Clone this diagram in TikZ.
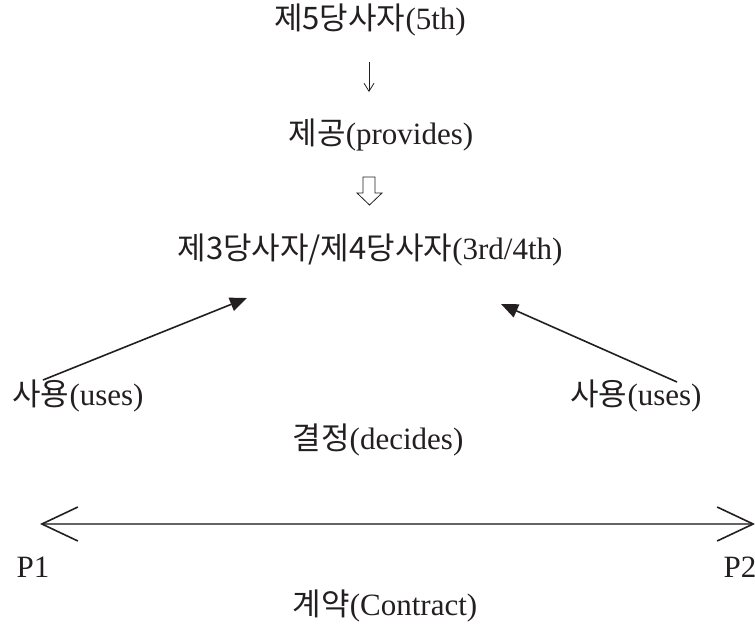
\documentclass[tikz,border=0pt]{standalone}
\usepackage{fontspec}
\setmainfont{Liberation Serif}
\newfontfamily\kr{Noto Sans CJK KR}
\usepackage{tikz}
\usetikzlibrary{arrows.meta}
\definecolor{inkblack}{RGB}{35,31,32}
\definecolor{shaftgray}{RGB}{100,100,102}
\tikzset{
  txt/.style={inner sep=0pt,text=inkblack,font=\fontsize{15.5}{18}\selectfont},
  useline/.style={draw=inkblack,line width=0.8pt,-{Triangle[length=8.5pt,width=7pt]}},
}

\begin{document}
\begin{tikzpicture}[x=0.5pt,y=-0.5pt]
\useasboundingbox (0,0) rectangle (755,632);
% parties
\node [txt] (fifth) at (370,20) {{\kr 제5당사자}(5th)};
\node [txt] (provides) at (381,135) {{\kr 제공}(provides)};
\node [txt] (third) at (370,250) {{\kr 제3당사자/제4당사자}(3rd/4th)};
\node [txt] (usesleft) at (78,396) {{\kr 사용}(uses)};
\node [txt] (usesright) at (636,396) {{\kr 사용}(uses)};
\node [txt] (decides) at (378,440) {{\kr 결정}(decides)};
\node [txt] (pone) at (33,567) {P1};
\node [txt] (ptwo) at (740,567) {P2};
\node [txt] (contract) at (385,606) {{\kr 계약}(Contract)};

\coordinate (downtop) at (369,62);
\coordinate (downtip) at (369,92);
\coordinate (leftfoot) at (43,380);
\coordinate (lefttip) at (247,298);
\coordinate (rightfoot) at (677,382);
\coordinate (righttip) at (501,304);
\coordinate (contractl) at (40,524);
\coordinate (contractr) at (755,524);

\draw [inkblack,line width=0.4pt,-{Straight Barb[length=4pt,width=5pt]}] (downtop) -- (downtip);
\draw [inkblack,line width=0.4pt,line join=miter] (363,177) -- (375,177) -- (375,193) -- (382,193)
  -- (369.5,205) -- (357,193) -- (363,193) -- cycle;
\draw [useline] (leftfoot) -- (lefttip);
\draw [useline] (rightfoot) -- (righttip);
\draw [shaftgray,line width=0.9pt,
  {Straight Barb[length=18pt,width=17pt,color=inkblack,line width=0.8pt]}-{Straight Barb[length=18pt,width=17pt,color=inkblack,line width=0.8pt]}]
  (contractl) -- (contractr);
\end{tikzpicture}
\end{document}
